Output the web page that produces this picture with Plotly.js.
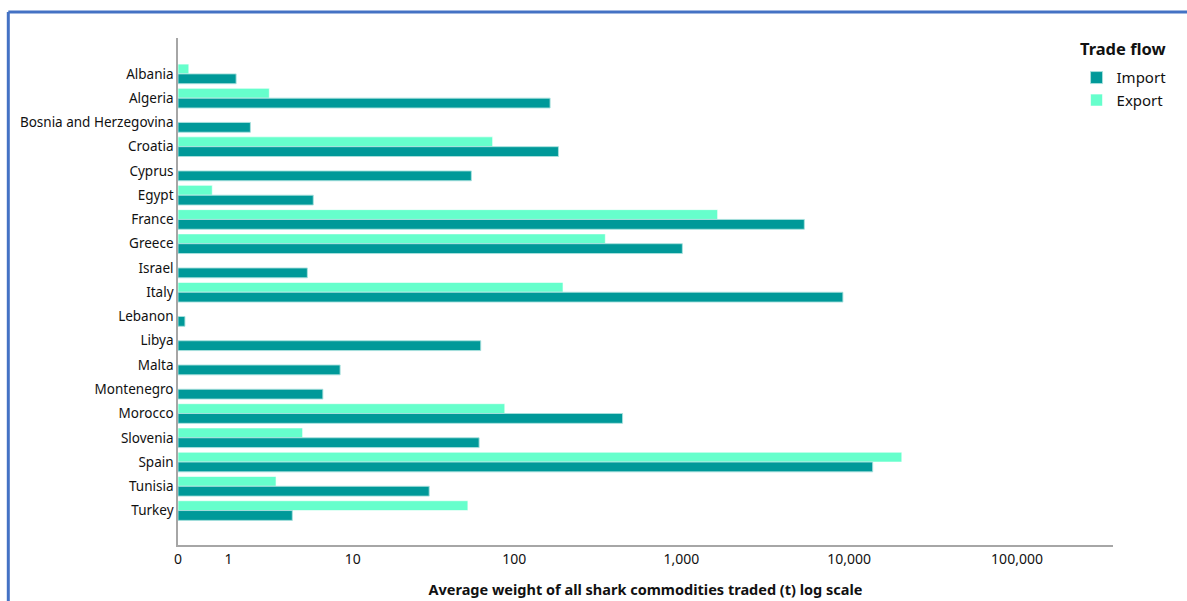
<!DOCTYPE html>
<html>
<head>
<meta charset="utf-8">
<script src="https://cdn.plot.ly/plotly-3.0.1.min.js"></script>
<style>
  html, body { margin: 0; padding: 0; background: #fff; }
  #chart { width: 1187px; height: 601px; }
</style>
</head>
<body>
<div id="chart"></div>
<script>
// Data (average weight, tonnes)
const countries = ["Albania","Algeria","Bosnia and Herzegovina","Croatia","Cyprus","Egypt","France","Greece","Israel","Italy","Lebanon","Libya","Malta","Montenegro","Morocco","Slovenia","Spain","Tunisia","Turkey"];
const importVals = [1.22, 164, 1.7, 184, 55, 5.4, 5400, 1012, 4.9, 9170, 0.1, 62.7, 8.25, 6.3, 445, 61.3, 13800, 30.4, 3.8];
const exportVals = [0.16, 2.5, null, 74, null, 0.6, 1643, 351, null, 196, null, null, null, null, 87.6, 4.53, 20580, 2.84, 52.4];
const tickNumbers = [0, 1, 10, 100, 1000, 10000, 100000];
const tickLabels = ["0", "1", "10", "100", "1,000", "10,000", "100,000"];

// log(x+1) scale transform
const tr = v => (v === null || v === undefined) ? null : Math.log10(v + 1);

const importColor = "#009999";
const exportColor = "#66FFCC";

const traces = [
  {
    type: "bar", orientation: "h", name: "Export",
    y: countries, x: exportVals.map(tr),
    customdata: exportVals,
    hovertemplate: "%{y}: %{customdata}<extra>Export</extra>",
    marker: { color: exportColor, line: { color: "rgba(255,255,255,0.6)", width: 1 } }
  },
  {
    type: "bar", orientation: "h", name: "Import",
    y: countries, x: importVals.map(tr),
    customdata: importVals,
    hovertemplate: "%{y}: %{customdata}<extra>Import</extra>",
    marker: { color: importColor, line: { color: "rgba(170,225,222,0.9)", width: 1 } }
  }
];

const n = countries.length;
const layout = {
  width: 1187, height: 601,
  margin: { l: 177.7, r: 74.3, t: 38, b: 55.5, pad: 0 },
  paper_bgcolor: "#fff", plot_bgcolor: "#fff",
  font: { family: "Noto Sans, sans-serif", size: 13, color: "#111" },
  barmode: "group", bargap: 0.19, bargroupgap: 0,
  showlegend: true,
  legend: {
    traceorder: "reversed",
    x: 0.961, xanchor: "left", y: 0.954, yanchor: "top",
    font: { size: 15, color: "#111" },
    bgcolor: "rgba(0,0,0,0)", itemwidth: 30, tracegroupgap: 0
  },
  annotations: [
    { text: "<b>Trade flow</b>", xref: "paper", yref: "paper",
      x: (1078 - 177.7) / 935, y: (545.5 - 49) / 507.5, xanchor: "left", yanchor: "middle",
      showarrow: false, font: { size: 16.5, color: "#111" } }
  ],
  xaxis: {
    range: [0, 5.572], autorange: false,
    tickmode: "array", tickvals: tickNumbers.map(tr), ticktext: tickLabels,
    showgrid: false, zeroline: false, ticks: "",
    showline: true, linecolor: "#a6a6a6", linewidth: 1.5,
    tickfont: { size: 14, color: "#111" },
    title: { text: "<b>Average weight of all shark commodities traded (t) log scale</b>", font: { size: 14.5, color: "#111" }, standoff: 18 },
    automargin: false
  },
  yaxis: {
    type: "category", categoryorder: "array", categoryarray: countries,
    range: [n - 1 + 1.42, -1.48], autorange: false,
    showgrid: false, zeroline: false, ticks: "",
    showline: true, linecolor: "#a6a6a6", linewidth: 1.5,
    tickfont: { size: 13.5, color: "#111" },
    ticklabelstandoff: 0,
    automargin: false
  },
  shapes: [
    { type: "line", xref: "paper", yref: "paper", x0: -0.1815, x1: -0.1815, y0: 1.0512, y1: -0.12, line: { color: "#4472C4", width: 3 } },
    { type: "line", xref: "paper", yref: "paper", x0: -0.1815, x1: 1.09, y0: 1.0512, y1: 1.0512, line: { color: "#4472C4", width: 3 } }
  ]
};

Plotly.newPlot("chart", traces, layout, { displayModeBar: false, staticPlot: false });
</script>
</body>
</html>
